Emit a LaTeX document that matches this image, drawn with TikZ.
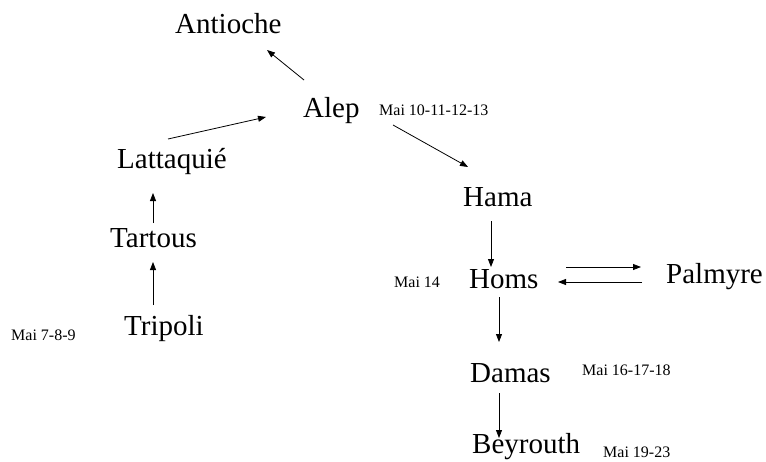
\documentclass[tikz,border=0pt]{standalone}
\usepackage{fontspec}
\setmainfont{Liberation Serif}
\newfontfamily\tms{Liberation Serif}
\usetikzlibrary{arrows.meta,calc}
\begin{document}
\begin{tikzpicture}[x=1pt,y=-1pt,
  city/.style={anchor=base west,inner sep=0pt,font=\tms\fontsize{29}{32}\selectfont},
  date/.style={anchor=base west,inner sep=0pt,font=\tms\fontsize{16}{18}\selectfont},
  arr/.style={line width=0.8pt,-{Triangle[length=8pt,width=6pt]}}]
\useasboundingbox (0,0) rectangle (766,461);
\node[city] (antioche) at (175,33) {Antioche};
\node[city] (alep) at (303,117) {Alep};
\node[date] (dalep) at (379,115) {Mai 10-11-12-13};
\node[city] (latt) at (117,168) {Lattaquié};
\node[city] (tartous) at (110,247) {Tartous};
\node[city] (tripoli) at (124,335) {Tripoli};
\node[date] (dtripoli) at (11,340) {Mai 7-8-9};
\node[city] (hama) at (463,206) {Hama};
\node[city] (homs) at (469,288) {Homs};
\node[date] (dhoms) at (394,287) {Mai 14};
\node[city] (palmyre) at (666,283) {Palmyre};
\node[city] (damas) at (470,382) {Damas};
\node[date] (ddamas) at (582,375) {Mai 16-17-18};
\node[city] (bey) at (472,453) {Beyrouth};
\node[date] (dbey) at (603,457) {Mai 19-23};
\draw[arr] ($(alep.base west)+(1,-37)$) -- ($(antioche.base west)+(92,17)$);
\draw[arr] ($(latt.base west)+(51,-29)$) -- ($(alep.base west)+(-37,0)$);
\draw[arr] ($(alep.base west)+(90,8)$) -- ($(hama.base west)+(5,-39)$);
\draw[arr] ($(tartous.base west)+(43,-24)$) -- ($(latt.base west)+(36,25)$);
\draw[arr] ($(tripoli.base west)+(29,-30)$) -- ($(tartous.base west)+(43,15)$);
\draw[arr] ($(hama.base west)+(28,15)$) -- ($(homs.base west)+(22,-21)$);
\draw[arr] ($(homs.base west)+(30,9)$) -- ($(damas.base west)+(29,-40)$);
\draw[arr] ($(damas.base west)+(29,11)$) -- ($(bey.base west)+(27,-15)$);
\draw[arr] ($(homs.base west)+(97,-21)$) -- ($(palmyre.base west)+(-25,-16)$);
\draw[arr] ($(palmyre.base west)+(-24,-1)$) -- ($(homs.base west)+(89,-6)$);
\end{tikzpicture}
\end{document}
